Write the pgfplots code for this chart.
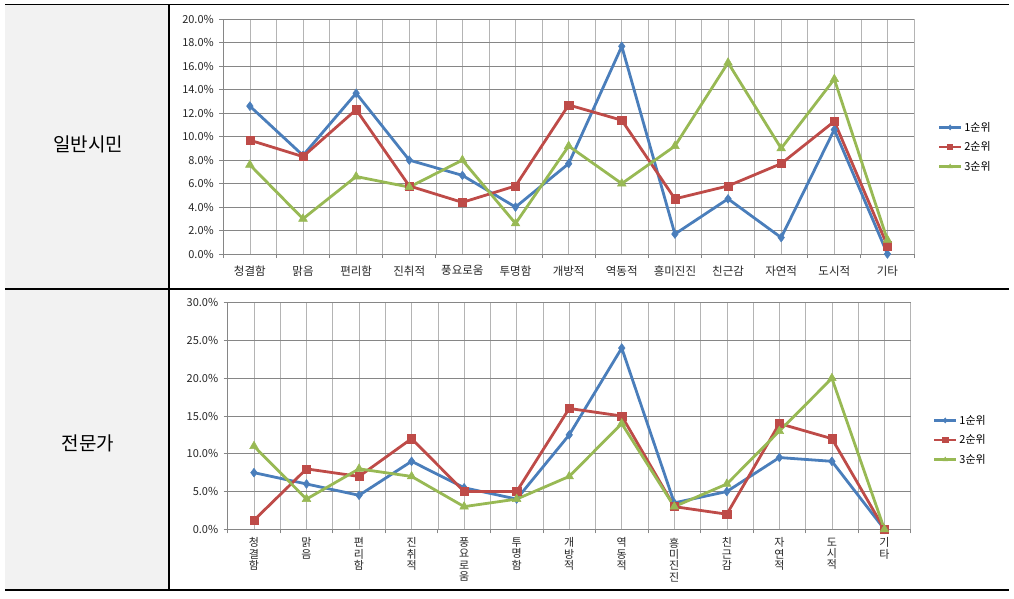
\documentclass[border=0pt]{standalone}
\usepackage{fontspec}
\setmainfont{Noto Sans CJK KR}
\usepackage{pgfplots}
\usepackage{pgfplotstable}
\pgfplotsset{compat=1.18}
\definecolor{s1}{HTML}{4A7EBB}
\definecolor{s2}{HTML}{BE4B48}
\definecolor{s3}{HTML}{98B954}
\definecolor{vgrid}{HTML}{B4B4B4}
\definecolor{hgrid}{HTML}{868686}
\definecolor{cellbg}{HTML}{F2F2F2}

% general public (일반시민): columns a=1순위, b=2순위, c=3순위 (percent)
\pgfplotstableread{
x a b c
0 12.6 9.7 7.6
1 8.4 8.3 3.0
2 13.7 12.3 6.6
3 8.0 5.8 5.7
4 6.7 4.4 8.0
5 4.0 5.8 2.6
6 7.7 12.7 9.2
7 17.7 11.4 6.0
8 1.7 4.7 9.2
9 4.7 5.8 16.3
10 1.4 7.7 9.0
11 10.6 11.3 14.9
12 0.0 0.7 1.2
}\topdata

% experts (전문가)
\pgfplotstableread{
x a b c
0 7.5 1.2 11.0
1 6.0 8.0 4.0
2 4.5 7.0 8.0
3 9.0 12.0 7.0
4 5.5 5.0 3.0
5 4.0 5.0 4.0
6 12.5 16.0 7.0
7 24.0 15.0 14.0
8 3.5 3.0 3.0
9 5.0 2.0 6.0
10 9.5 14.0 13.0
11 9.0 12.0 20.0
12 0.0 0.0 0.0
}\botdata

\pgfplotsset{
  mychart/.style={
    scale only axis, clip=false,
    xmin=-0.5, xmax=12.5,
    xtick={0,...,12},
    minor xtick={-0.5,0.5,...,12.5},
    xmajorgrids, xminorgrids, ymajorgrids,
    major x grid style={vgrid, line width=0.6pt},
    minor x grid style={vgrid, line width=0.6pt},
    major y grid style={hgrid, line width=0.6pt},
    axis x line*=bottom, axis y line*=left,
    axis line style={hgrid, line width=0.8pt, -},
    major x tick style={draw=none},
    minor x tick style={hgrid, line width=0.8pt},
    y tick style={hgrid, line width=0.8pt},
    major tick length=4pt, minor tick length=4pt,
    tick align=outside,
    /pgf/number format/assume math mode=true,
    yticklabel={\pgfmathprintnumber[fixed,fixed zerofill,precision=1]{\tick}\%},
    yticklabel style={font=\fontsize{11}{13}\selectfont, text=black!85, xshift=-2pt},
    legend style={draw=none, fill=none, font=\fontsize{11}{13}\selectfont, anchor=west, row sep=5pt},
    legend cell align=left,
    legend image code/.code={
      \draw[mark repeat=2, mark phase=2, #1, mark size=2.6pt]
        plot coordinates {(0cm,0cm) (0.38cm,0cm) (0.76cm,0cm)};
    },
  },
  sA/.style={color=s1, line width=2.8pt, mark=diamond*, mark size=4.4pt, mark options={fill=s1, draw=s1, solid, line width=0.5pt}},
  sB/.style={color=s2, line width=2.8pt, mark=square*, mark size=4.1pt, mark options={fill=s2, draw=s2, solid, line width=0.5pt}},
  sC/.style={color=s3, line width=2.8pt, mark=triangle*, mark size=5pt, mark options={fill=s3, draw=s3, solid, line width=0.5pt}},
}

\begin{document}
\begin{tikzpicture}[x=1pt, y=1pt]
\path[use as bounding box] (0,0) rectangle (1014,598);
% table cells
\fill[cellbg] (5,8) rectangle (169,593.5);
\draw[black, line width=1.1pt] (5,593.5) -- (1009,593.5);
\draw[black, line width=1.1pt] (5,309) -- (1009,309);
\draw[black, line width=1.1pt] (5,8) -- (1009,8);
\draw[black, line width=1.1pt] (169,593.5) -- (169,8);
\node[font=\fontsize{19}{22}\selectfont] at (88,454) {일반시민};
\node[font=\fontsize{19}{22}\selectfont] at (88,155) {전문가};

\begin{axis}[mychart,
  at={(223.3pt,344pt)}, anchor=south west,
  width=690.7pt, height=234.7pt,
  ymin=0, ymax=20, ytick={0,2,...,20},
  xticklabels={청결함,맑음,편리함,진취적,풍요로움,투명함,개방적,역동적,흥미진진,친근감,자연적,도시적,기타},
  xticklabel style={font=\fontsize{11.5}{13}\selectfont, text=black!85, yshift=-4pt},
  legend style={at={(1.03,0.456)}},
]
\addplot[sA] table[x=x, y=a] {\topdata};
\addplot[sB] table[x=x, y=b] {\topdata};
\addplot[sC] table[x=x, y=c] {\topdata};
\legend{1순위,2순위,3순위}
\end{axis}

\begin{axis}[mychart,
  at={(227.7pt,68.7pt)}, anchor=south west,
  width=683pt, height=226.6pt,
  ymin=0, ymax=30, ytick={0,5,...,30},
  xticklabels={{청\\결\\함},{맑\\음},{편\\리\\함},{진\\취\\적},{풍\\요\\로\\움},{투\\명\\함},{개\\방\\적},{역\\동\\적},{흥\\미\\진\\진},{친\\근\\감},{자\\연\\적},{도\\시\\적},{기\\타}},
  xticklabel style={font=\fontsize{11}{11.4}\selectfont, text=black!85, align=center, anchor=north, yshift=-1pt},
  legend style={at={(1.028,0.394)}},
]
\addplot[sA] table[x=x, y=a] {\botdata};
\addplot[sB] table[x=x, y=b] {\botdata};
\addplot[sC] table[x=x, y=c] {\botdata};
\legend{1순위,2순위,3순위}
\end{axis}
\end{tikzpicture}
\end{document}
